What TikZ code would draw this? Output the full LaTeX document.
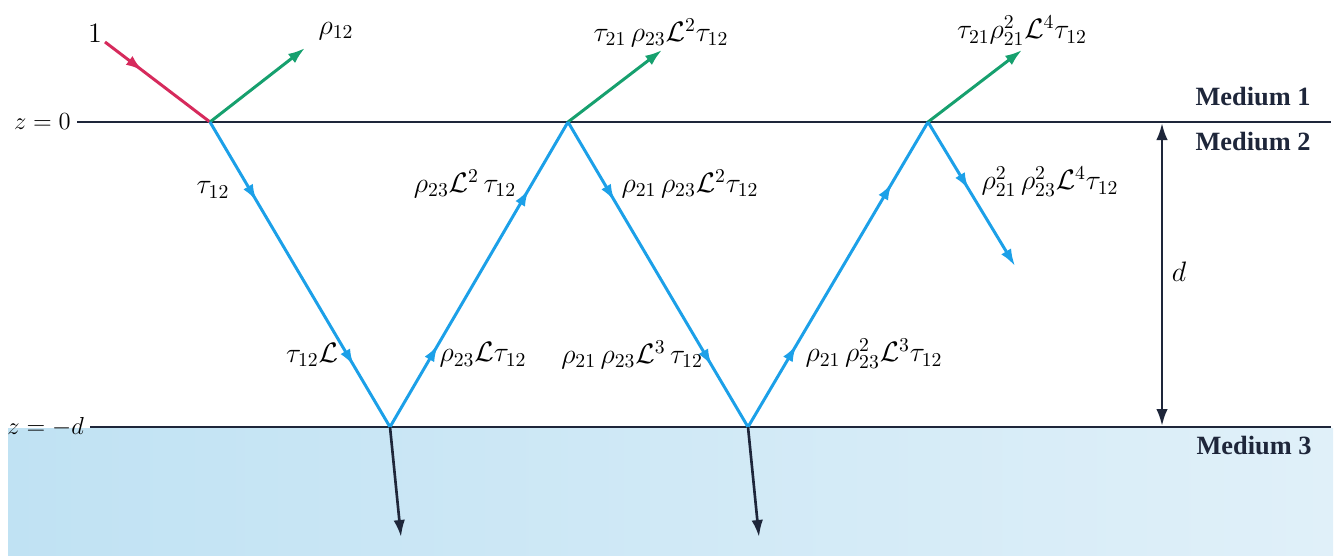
\RequirePackage{fix-cm}
\documentclass[tikz,border=0pt]{standalone}
\usepackage{fontspec}
\setmainfont{Liberation Serif}
\usepackage{xcolor}
\usetikzlibrary{arrows.meta, decorations.markings, positioning}

\definecolor{rayred}{RGB}{214,42,92}
\definecolor{raygreen}{RGB}{22,160,110}
\definecolor{rayblue}{RGB}{28,160,232}
\definecolor{inkblue}{RGB}{30,38,58}
\definecolor{mthreeL}{RGB}{192,226,243}
\definecolor{mthreeR}{RGB}{224,240,249}

\tikzset{
  interface/.style={line width=1.2pt, inkblue},
  ray/.style={line width=1.7pt, rayblue},
  rayin/.style={line width=1.7pt, rayred},
  rayout/.style={line width=1.7pt, raygreen},
  trans/.style={line width=1.5pt, inkblue},
  tip at/.style={postaction={decorate, decoration={markings,
      mark=at position #1 with {\arrow{Latex[length=3.4mm,width=2.2mm]}}}}},
  medium/.style={font=\fontsize{15}{18}\selectfont\bfseries, text=inkblue},
  zlabel/.style={left, font=\fontsize{14}{17}\selectfont},
}

\begin{document}
\begin{tikzpicture}[x=0.02cm, y=-0.02cm, >={Latex[length=3.4mm,width=2.3mm]}, font=\fontsize{16}{19}\selectfont]
    % 1. Fond du milieu 3 et cadre
    \useasboundingbox (0,0) rectangle (1341,555);
    \shade[left color=mthreeL, right color=mthreeR] (8,428) rectangle (1333,555);

    % 2. Les deux interfaces z = 0 et z = -d
    \coordinate (top-l) at (77,122);
    \coordinate (top-r) at (1331,122);
    \coordinate (bot-l) at (90,427);
    \coordinate (bot-r) at (1331,427);
    \draw[interface] (top-l) -- (top-r);
    \draw[interface] (bot-l) -- (bot-r);
    \node[zlabel] (z-top) at (top-l) {$z = 0$};
    \node[zlabel] (z-bot) at (bot-l) {$z = -d$};

    % 3. Points de reflexion
    \coordinate (A) at (210,122);
    \coordinate (B) at (390,427);
    \coordinate (C) at (568,122);
    \coordinate (D) at (748,427);
    \coordinate (E) at (928,122);
    \coordinate (src) at (105,42);
    \coordinate (r1) at (305,48);
    \coordinate (r2) at (662,50);
    \coordinate (r3) at (1022,50);
    \coordinate (F) at (1015,266);
    \coordinate (t1) at (401,537);
    \coordinate (t2) at (759,537);

    % Onde incidente et ondes reflechies dans le milieu 1
    \draw[rayin, tip at=0.36] (src) -- (A);
    \draw[rayout, ->] (A) -- (r1);
    \draw[rayout, ->] (C) -- (r2);
    \draw[rayout, ->] (E) -- (r3);

    % Allers-retours dans le milieu 2
    \draw[ray, tip at=0.26, tip at=0.8] (A) -- (B);
    \draw[ray, tip at=0.27, tip at=0.78] (B) -- (C);
    \draw[ray, tip at=0.26, tip at=0.8] (C) -- (D);
    \draw[ray, tip at=0.27, tip at=0.8] (D) -- (E);
    \draw[ray, tip at=0.47, ->] (E) -- (F);

    % Ondes transmises dans le milieu 3
    \draw[trans, ->] (B) -- (t1);
    \draw[trans, ->] (D) -- (t2);

    % 4. Epaisseur d
    \coordinate (d-top) at (1162,123);
    \coordinate (d-bot) at (1162,426);
    \draw[trans, <->] (d-top) -- (d-bot);
    \node (lbl-d) at (1179,272) {$d$};

    % 5. Etiquettes des ondes
    \node (lbl-in) at (95,33) {$1$};
    \node (lbl-r1) at (336,31) {$\rho_{12}$};
    \node (lbl-r2) at (661,33) {$\tau_{21}\,\rho_{23}\mathcal{L}^2\tau_{12}$};
    \node (lbl-r3) at (1022,31) {$\tau_{21}\rho_{21}^2\mathcal{L}^4\tau_{12}$};
    \node (lbl-ab1) at (213,190) {$\tau_{12}$};
    \node (lbl-ab2) at (312,355) {$\tau_{12}\mathcal{L}$};
    \node (lbl-bc1) at (483,355) {$\rho_{23}\mathcal{L}\tau_{12}$};
    \node (lbl-bc2) at (465,184) {$\rho_{23}\mathcal{L}^2\,\tau_{12}$};
    \node (lbl-cd1) at (690,184) {$\rho_{21}\,\rho_{23}\mathcal{L}^2\tau_{12}$};
    \node (lbl-cd2) at (632,355) {$\rho_{21}\,\rho_{23}\mathcal{L}^3\,\tau_{12}$};
    \node (lbl-de1) at (874,354) {$\rho_{21}\,\rho_{23}^2\mathcal{L}^3\tau_{12}$};
    \node (lbl-ef) at (1050,182) {$\rho_{21}^2\,\rho_{23}^2\mathcal{L}^4\tau_{12}$};

    % 6. Milieux
    \node[medium] (m1) at (1253,97) {Medium 1};
    \node[medium] (m2) at (1253,142) {Medium 2};
    \node[medium] (m3) at (1254,446) {Medium 3};
\end{tikzpicture}
\end{document}
